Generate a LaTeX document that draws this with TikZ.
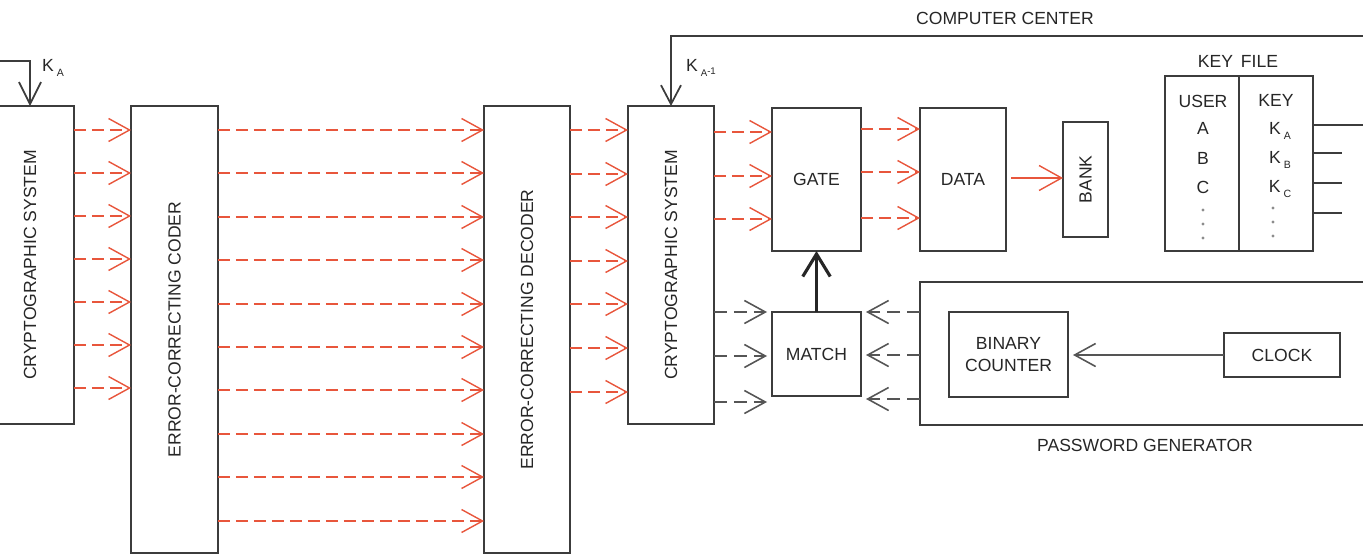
\documentclass[tikz,border=0pt]{standalone}
\usepackage{fontspec}
\setmainfont{Liberation Sans}
\usetikzlibrary{arrows.meta}
\definecolor{wirered}{RGB}{232,86,60}
\definecolor{boxgray}{RGB}{60,60,60}
\definecolor{wiregray}{RGB}{85,85,85}
\newcommand{\subsc}[1]{\,\raisebox{-0.55ex}{\fontsize{6}{7}\selectfont #1}}
\begin{document}
\begin{tikzpicture}[x=0.02cm,y=-0.02cm,
  every node/.style={font=\fontsize{10}{12}\selectfont,text=black!85},
  blk/.style={draw=boxgray,line width=1pt,inner sep=0pt,outer sep=0pt},
  redwire/.style={draw=wirered,line width=0.8pt,dash pattern=on 2.4mm off 1.2mm,
    -{Straight Barb[length=4.2mm,width=4.6mm]}},
  redsolid/.style={draw=wirered,line width=0.8pt,-{Straight Barb[length=4.5mm,width=5mm]}},
  graywire/.style={draw=wiregray,line width=0.9pt,dash pattern=on 2.6mm off 1.4mm,
    -{Straight Barb[length=4.2mm,width=4.6mm]}},
  graysolid/.style={draw=wiregray,line width=0.9pt,-{Straight Barb[length=4.2mm,width=4.6mm]}},
  keyline/.style={draw=boxgray,line width=1pt},
  bigarrow/.style={draw=black!85,line width=1.8pt,-{Straight Barb[length=4.5mm,width=5.5mm]}}]
  \useasboundingbox (0,0) rectangle (1363,555);

  % blocks of the transmission chain
  \node[blk,minimum width=1.76cm,minimum height=6.36cm] (crypL) at (30,265) {};
  \node[rotate=90] (crypLtxt) at (crypL) {CRYPTOGRAPHIC SYSTEM};
  \node[blk,minimum width=1.74cm,minimum height=8.94cm] (coder) at (174.5,329.5) {};
  \node[rotate=90] (codertxt) at (coder) {ERROR-CORRECTING CODER};
  \node[blk,minimum width=1.72cm,minimum height=8.94cm] (decoder) at (527,329.5) {};
  \node[rotate=90] (decodertxt) at (decoder) {ERROR-CORRECTING DECODER};
  \node[blk,minimum width=1.72cm,minimum height=6.36cm] (crypR) at (671,265) {};
  \node[rotate=90] (crypRtxt) at (crypR) {CRYPTOGRAPHIC SYSTEM};

  % computer center
  \node[blk,minimum width=1.78cm,minimum height=2.86cm] (gate) at (816.5,179.5) {GATE};
  \node[blk,minimum width=1.72cm,minimum height=2.86cm] (data) at (963,179.5) {DATA};
  \node[blk,minimum width=0.9cm,minimum height=2.3cm] (bank) at (1085.5,179.5) {};
  \node[rotate=90] (banktxt) at (bank) {BANK};
  \node[blk,minimum width=1.78cm,minimum height=1.68cm] (match) at (816.5,354) {MATCH};
  \node[blk,minimum width=9.6cm,minimum height=2.86cm] (pwgen) at (1160,353.5) {};
  \node[blk,minimum width=2.38cm,minimum height=1.7cm,align=center] (counter) at (1008.5,354.5) {BINARY\\COUNTER};
  \node[blk,minimum width=2.32cm,minimum height=0.88cm] (clock) at (1282,355) {CLOCK};
  \node (pwgentxt) at (1145,445) {PASSWORD GENERATOR};
  \node (cctxt) at (1005,18) {COMPUTER CENTER};

  % key file
  \node[blk,minimum width=2.96cm,minimum height=3.5cm] (keyfile) at (1239,163.5) {};
  \draw[keyline] (keyfile.north) -- (keyfile.south);
  \node (kftxt) at (1238,61) {KEY\, FILE};
  \node (kfuser) at (1203,101) {USER};
  \node (kfkey) at (1276,100) {KEY};
  \node (kfa) at (1203,128) {A};
  \node (kfb) at (1203,158) {B};
  \node (kfc) at (1203,187) {C};
  \node (kfka) at (1280,131) {K\subsc{A}};
  \node (kfkb) at (1280,160) {K\subsc{B}};
  \node (kfkc) at (1280,189) {K\subsc{C}};
  \foreach \y in {210,224,238} {
    \fill[black!45] (1203,\y) circle (0.9pt);
    \fill[black!45] (1273,\y-2) circle (0.9pt);
  }
  \coordinate (kfout) at (1363,125);
  \draw[keyline] (keyfile.east |- kfout) -- (kfout);
  \foreach \y in {153,183,213} {
    \coordinate (kf\y) at (1342,\y);
    \draw[keyline] (keyfile.east |- kf\y) -- (kf\y);
  }

  % keys
  \coordinate (kain) at (0,61);
  \draw[keyline,-{Straight Barb[length=4.4mm,width=4.4mm]}] (kain) -| (crypL.north);
  \node (katxt) at (53,68) {K\subsc{A}};
  \coordinate (ccin) at (1363,36);
  \draw[keyline,-{Straight Barb[length=3.8mm,width=4mm]}] (ccin) -| (crypR.north);
  \node (kainvtxt) at (701,68) {K\,\raisebox{-0.6ex}{\fontsize{5.5}{6}\selectfont A\raisebox{0.5ex}{-1}}};

  % red data lines
  \foreach \i [evaluate=\i as \y using {round(130+43*\i)}] in {0,...,6}
    \draw[redwire] (crypL.east |- 0,\y) -- (coder.west |- 0,\y);
  \foreach \i [evaluate=\i as \y using {round(130+43.4*\i)}] in {0,...,9}
    \draw[redwire] (coder.east |- 0,\y) -- (decoder.west |- 0,\y);
  \foreach \i [evaluate=\i as \y using {round(130+43.6*\i)}] in {0,...,6}
    \draw[redwire] (decoder.east |- 0,\y) -- (crypR.west |- 0,\y);
  \foreach \y in {132,176,219}
    \draw[redwire] (crypR.east |- 0,\y) -- (gate.west |- 0,\y);
  \foreach \y in {129,172,218}
    \draw[redwire] (gate.east |- 0,\y) -- (data.west |- 0,\y);
  \draw[redsolid] ([xshift=1mm]data.east |- 0,178) -- (bank.west |- 0,178);

  % password lines
  \foreach \y in {312,356,402}
    \draw[graywire] (crypR.east |- 0,\y) -- ([xshift=-1mm]match.west |- 0,\y);
  \foreach \y in {312,355,399}
    \draw[graywire] (pwgen.west |- 0,\y) -- ([xshift=1mm]match.east |- 0,\y);
  \draw[graysolid] (clock.west) -- ([xshift=1mm]counter.east |- clock.west);
  \draw[bigarrow] (match.north) -- (gate.south);
\end{tikzpicture}
\end{document}
